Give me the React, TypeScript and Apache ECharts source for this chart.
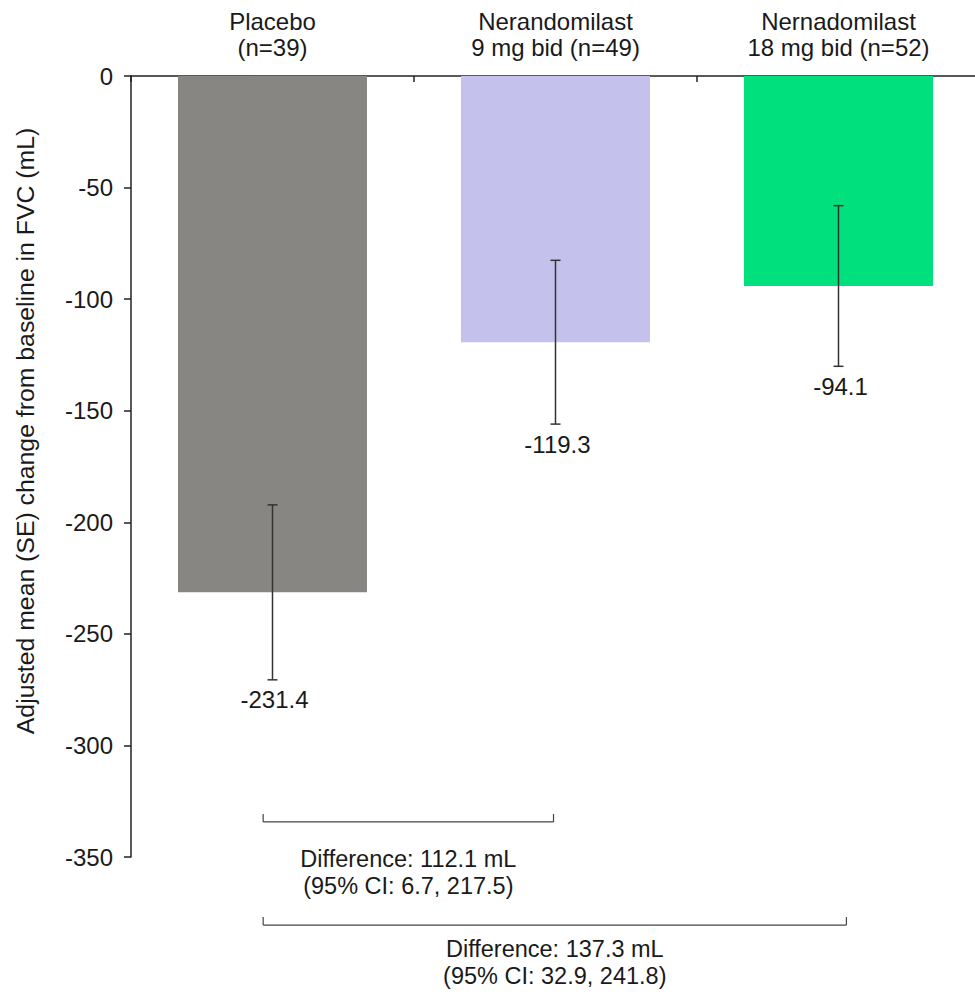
import React, { useEffect, useRef } from "react";
import * as echarts from "echarts";

const categories = [
  "Placebo\n(n=39)",
  "Nerandomilast\n9 mg bid (n=49)",
  "Nernadomilast\n18 mg bid (n=52)",
];
const means = [-231.4, -119.3, -94.1];
const standardErrors = [39.2, 36.7, 36.0];
const barColors = ["#878682", "#c4c2ec", "#00e07c"];
const yMin = -350;
const yMax = 0;
const yInterval = 50;
const yAxisTitle = "Adjusted mean (SE) change from baseline in FVC (mL)";

const comparisonFrom = [0, 0];
const comparisonTo = [1, 2];
const differenceLabels = ["Difference: 112.1 mL", "Difference: 137.3 mL"];
const ciLabels = ["(95% CI: 6.7, 217.5)", "(95% CI: 32.9, 241.8)"];

const FONT = "'Liberation Sans', Arial, sans-serif";
const TEXT = "#1a1a1a";
const AXIS = "#222";

export default function App() {
  const ref = useRef<HTMLDivElement>(null);

  useEffect(() => {
    if (!ref.current) return;
    const chart = echarts.init(ref.current, undefined, { renderer: "svg" });

    // bracket layout (annotation placement)
    const bracketY = [-334.3, -380.5];
    const bracketFromShift = [-0.033, -0.033];
    const bracketToShift = [-0.007, 0.028];
    const bracketTextGap = [[37, 64], [24, 51]];

    chart.setOption({
      animation: false,
      grid: { left: 131, top: 76, width: 849, height: 781 },
      xAxis: {
        type: "category",
        position: "top",
        data: categories,
        axisLine: { show: true, lineStyle: { color: AXIS, width: 1.5 } },
        axisTick: { show: true, inside: true, length: 6, lineStyle: { color: AXIS, width: 1.5 } },
        axisLabel: {
          fontSize: 24,
          lineHeight: 26,
          color: TEXT,
          fontFamily: FONT,
          margin: 16,
          interval: 0,
        },
      },
      yAxis: {
        type: "value",
        min: yMin,
        max: yMax,
        interval: yInterval,
        splitLine: { show: false },
        axisLine: { show: true, lineStyle: { color: AXIS, width: 1.5 } },
        axisTick: { show: true, length: 7, lineStyle: { color: AXIS, width: 1.5 } },
        axisLabel: { fontSize: 24, color: TEXT, fontFamily: FONT, margin: 18 },
      },
      graphic: [
        {
          type: "text",
          x: 25,
          y: 431,
          rotation: Math.PI / 2,
          style: {
            text: yAxisTitle,
            fontSize: 24.8,
            fontFamily: FONT,
            fill: TEXT,
            align: "center",
            verticalAlign: "middle",
          },
        },
      ],
      series: [
        {
          type: "bar",
          barWidth: 189,
          data: means.map((v, i) => ({ value: v, itemStyle: { color: barColors[i] } })),
          z: 2,
        },
        {
          type: "custom",
          z: 5,
          clip: false,
          data: means.map((m, i) => [i, m, standardErrors[i]]),
          renderItem: (params: any, api: any) => {
            const idx = api.value(0);
            const m = api.value(1);
            const se = api.value(2);
            const top = api.coord([idx, m + se]);
            const bot = api.coord([idx, m - se]);
            const cap = 5;
            const st = { stroke: "#333", lineWidth: 1.5 };
            return {
              type: "group",
              children: [
                { type: "line", shape: { x1: top[0], y1: top[1], x2: bot[0], y2: bot[1] }, style: st },
                { type: "line", shape: { x1: top[0] - cap, y1: top[1], x2: top[0] + cap, y2: top[1] }, style: st },
                { type: "line", shape: { x1: bot[0] - cap, y1: bot[1], x2: bot[0] + cap, y2: bot[1] }, style: st },
                {
                  type: "text",
                  x: bot[0] + 2,
                  y: bot[1] + 20,
                  style: {
                    text: m.toFixed(1),
                    fontSize: 24,
                    fontFamily: FONT,
                    fill: TEXT,
                    align: "center",
                    verticalAlign: "middle",
                  },
                },
              ],
            };
          },
        },
        {
          type: "custom",
          z: 5,
          clip: false,
          data: comparisonFrom.map((f, i) => [f, bracketY[i]]),
          renderItem: (params: any, api: any) => {
            const i = params.dataIndex;
            const y = bracketY[i];
            const band = api.size([1, 0])[0];
            const p1 = api.coord([comparisonFrom[i], y]);
            const p2 = api.coord([comparisonTo[i], y]);
            const x1 = p1[0] + bracketFromShift[i] * band;
            const x2 = p2[0] + bracketToShift[i] * band;
            const yy = p1[1];
            const st = { stroke: "#444", lineWidth: 1.2 };
            const cx = (x1 + x2) / 2;
            const ts = (t: string, dy: number) => ({
              type: "text",
              x: cx,
              y: yy + dy,
              style: {
                text: t,
                fontSize: 23.5,
                fontFamily: FONT,
                fill: TEXT,
                align: "center",
                verticalAlign: "middle",
              },
            });
            return {
              type: "group",
              children: [
                { type: "line", shape: { x1, y1: yy, x2, y2: yy }, style: st },
                { type: "line", shape: { x1, y1: yy - 8, x2: x1, y2: yy }, style: st },
                { type: "line", shape: { x1: x2, y1: yy - 8, x2, y2: yy }, style: st },
                ts(differenceLabels[i], bracketTextGap[i][0]),
                ts(ciLabels[i], bracketTextGap[i][1]),
              ],
            };
          },
        },
      ],
    });
    return () => chart.dispose();
  }, []);

  return (
    <div
      ref={ref}
      style={{ position: "fixed", left: 0, top: 0, width: 990, height: 996, background: "#fff" }}
    />
  );
}
